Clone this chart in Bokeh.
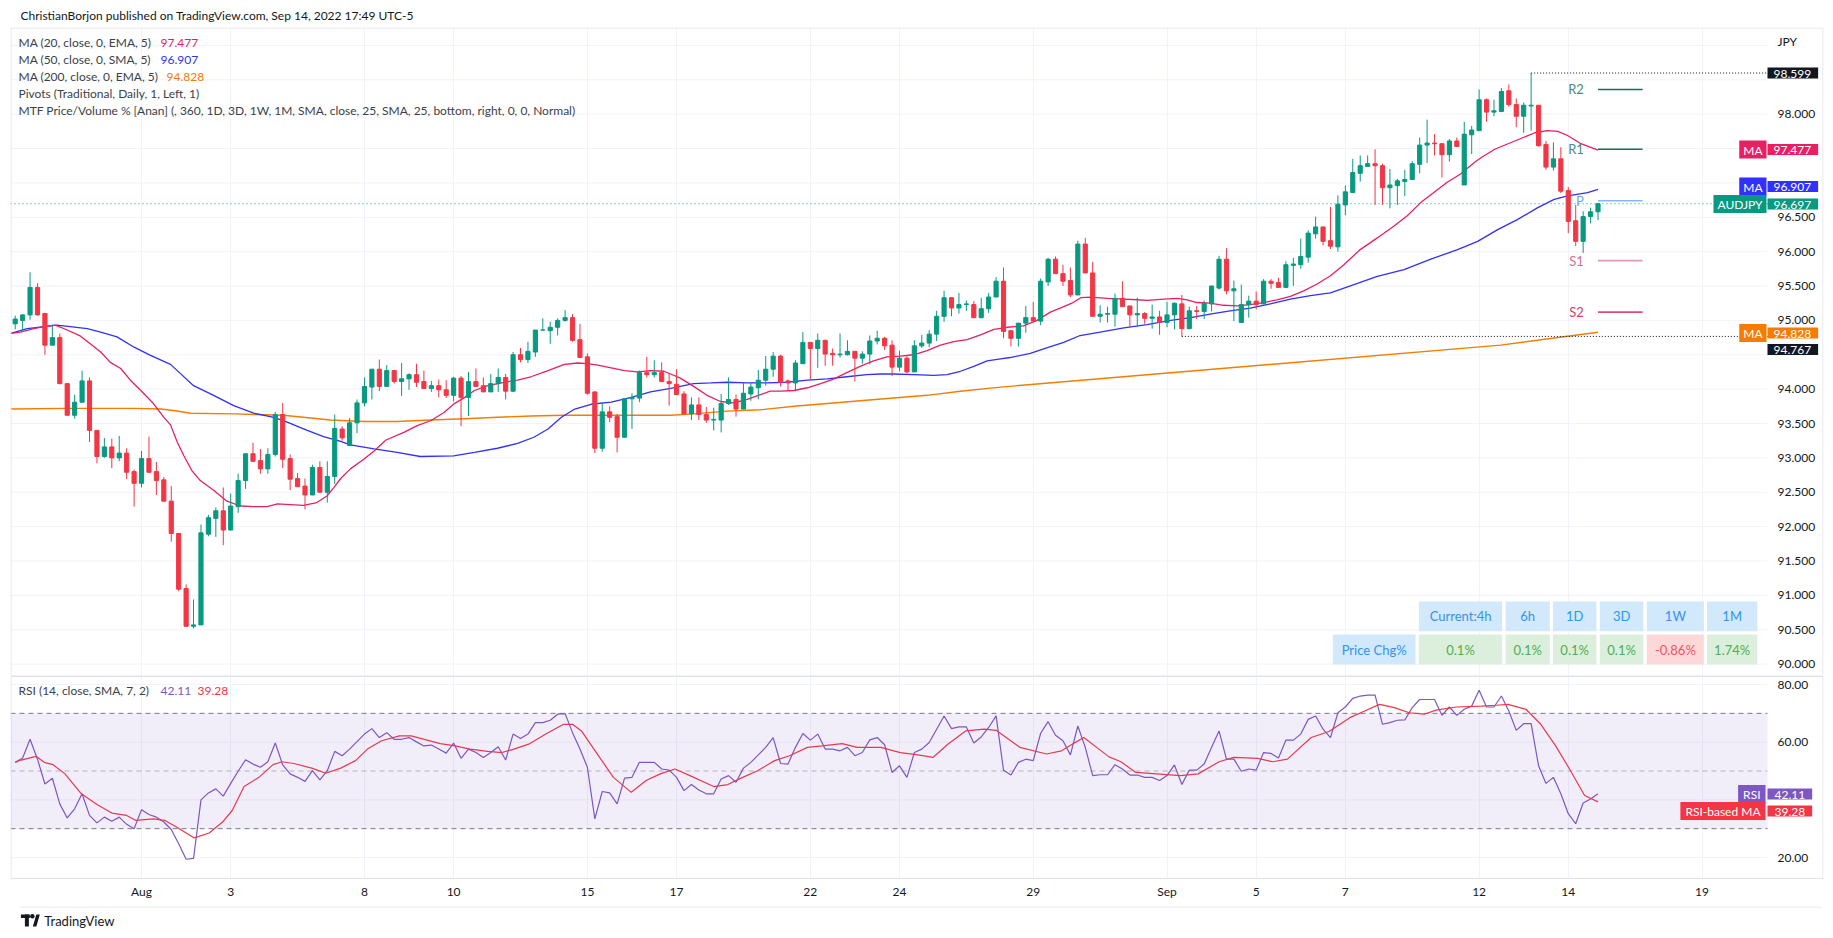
import numpy as np
from bokeh.plotting import figure
from bokeh.layouts import column
from bokeh.models import (ColumnDataSource, Range1d, FixedTicker, Label, Span,
                          NumeralTickFormatter, BoxAnnotation, LinearAxis)
from bokeh.core.properties import value
from bokeh.embed import file_html
from bokeh.resources import INLINE

# ---------------------------------------------------------------- data
opens = [94.95,95.00,95.08,95.48,95.10,94.64,94.75,94.08,93.62,93.81,
94.12,93.40,93.02,93.16,93.00,93.07,92.80,92.63,92.99,92.80,
92.68,92.37,91.90,91.10,90.55,90.57,91.89,92.12,92.23,91.95,
92.29,92.67,93.06,92.96,92.84,93.05,93.63,92.99,92.70,92.59,
92.46,92.86,92.50,92.73,93.42,93.18,93.51,93.80,94.03,94.29,
94.04,94.27,94.11,94.15,94.21,94.11,94.01,94.05,93.99,93.91,
94.16,93.88,94.11,94.05,93.96,94.08,94.17,93.97,94.50,94.43,
94.54,94.86,94.85,94.90,95.00,95.04,94.72,94.47,93.96,93.14,
93.67,93.60,93.30,93.86,93.87,94.24,94.21,94.24,94.11,94.07,
93.93,93.64,93.77,93.63,93.55,93.55,93.79,93.85,93.71,93.93,
94.02,94.13,94.29,94.48,94.12,94.09,94.37,94.68,94.59,94.71,
94.52,94.50,94.50,94.55,94.45,94.51,94.70,94.74,94.64,94.32,
94.45,94.25,94.63,94.67,94.80,95.06,95.33,95.18,95.23,95.23,
95.04,95.17,95.34,95.57,94.85,94.74,94.96,95.04,94.99,95.56,
95.89,95.68,95.58,95.37,96.11,95.69,95.06,95.09,95.09,95.32,
95.21,95.08,95.10,95.03,95.05,94.97,95.08,95.24,94.88,95.14,
95.13,95.24,95.47,95.89,95.43,94.97,95.23,95.28,95.24,95.57,
95.55,95.48,95.80,95.81,95.92,96.26,96.36,96.16,96.07,96.68,
96.86,97.14,97.24,97.28,97.25,96.93,96.96,97.02,97.05,97.27,
97.55,97.58,97.57,97.41,97.61,96.97,97.70,97.76,98.21,98.03,
98.04,98.34,98.14,97.97,98.12,98.13,97.56,97.23,97.35,96.89,
96.45,96.15,96.51,96.58]
highs = [95.07,95.09,95.70,95.54,95.11,94.94,94.81,94.09,93.92,94.27,
94.17,93.40,93.29,93.28,93.32,93.14,92.83,93.10,93.31,92.94,
92.72,92.59,91.90,91.16,90.94,92.03,92.17,92.28,92.57,92.48,
92.77,93.06,93.22,93.13,93.14,93.67,93.80,93.05,92.78,92.70,
92.90,92.95,92.95,93.63,93.46,93.58,93.85,94.17,94.29,94.43,
94.35,94.27,94.38,94.23,94.37,94.27,94.12,94.14,94.13,94.18,
94.19,94.25,94.30,94.17,94.22,94.30,94.22,94.54,94.60,94.69,
94.86,95.03,94.98,95.03,95.15,95.09,94.95,94.52,93.96,93.81,
93.75,93.64,93.86,93.94,94.27,94.47,94.42,94.39,94.23,94.29,
93.97,93.88,93.88,93.74,93.73,93.93,94.17,93.92,94.09,94.09,
94.28,94.48,94.54,94.50,94.14,94.42,94.83,94.68,94.81,94.72,
94.59,94.81,94.71,94.55,94.55,94.78,94.85,94.76,94.71,94.56,
94.48,94.71,94.79,94.86,95.14,95.43,95.34,95.40,95.29,95.28,
95.33,95.40,95.63,95.77,94.85,94.96,95.21,95.27,95.61,95.91,
95.93,95.81,95.77,96.16,96.20,95.85,95.22,95.20,95.39,95.57,
95.21,95.33,95.12,95.23,95.14,95.27,95.26,95.37,95.20,95.21,
95.29,95.50,95.94,96.05,95.58,95.52,95.36,95.42,95.60,95.60,
95.62,95.86,95.91,96.19,96.31,96.51,96.36,96.65,96.82,96.96,
97.35,97.40,97.40,97.49,97.28,97.20,97.06,97.19,97.32,97.66,
97.92,97.71,97.58,97.64,97.66,97.89,97.83,98.36,98.23,98.21,
98.38,98.43,98.23,98.17,98.599,98.13,97.61,97.59,97.52,96.94,
96.68,96.59,96.64,96.71]
lows = [94.87,94.85,95.01,95.07,94.50,94.64,94.07,93.62,93.57,93.81,
93.23,92.92,93.00,92.85,92.95,92.69,92.29,92.57,92.79,92.46,
92.37,91.78,91.06,90.55,90.52,90.57,91.86,91.85,91.73,91.95,
92.20,92.55,92.95,92.77,92.77,93.02,92.85,92.53,92.58,92.25,
92.46,92.50,92.35,92.62,93.25,93.18,93.36,93.75,93.85,93.97,
94.03,94.08,93.90,93.99,94.03,94.00,93.96,93.88,93.87,93.82,
93.46,93.61,94.03,93.96,93.96,93.96,93.85,93.96,94.39,94.38,
94.47,94.85,94.66,94.78,94.98,94.69,94.46,93.92,93.07,93.09,
93.52,93.08,93.30,93.42,93.81,94.17,94.17,94.11,93.76,93.92,
93.64,93.55,93.55,93.51,93.40,93.37,93.77,93.60,93.71,93.83,
93.85,94.05,94.18,94.04,93.97,93.97,94.37,94.14,94.31,94.34,
94.34,94.46,94.49,94.11,94.37,94.36,94.65,94.57,94.19,94.26,
94.23,94.25,94.60,94.61,94.70,94.98,95.06,95.10,95.14,95.04,
95.03,95.11,95.34,94.74,94.62,94.62,94.82,94.99,94.93,95.50,
95.68,95.50,95.34,95.37,95.69,95.06,94.97,94.97,94.91,95.20,
94.90,94.91,94.95,94.88,94.79,94.90,94.87,94.767,94.87,95.02,
95.02,95.13,95.45,95.38,94.99,94.97,95.04,95.16,95.24,95.46,
95.48,95.48,95.50,95.75,95.84,96.19,96.09,96.04,96.00,96.53,
96.85,97.02,97.24,96.68,96.68,96.63,96.68,96.81,97.05,97.14,
97.29,97.40,97.08,97.31,97.53,96.97,97.42,97.76,97.89,97.97,
98.03,98.11,97.81,97.73,97.76,97.53,97.19,97.18,96.85,96.27,
96.08,95.98,96.41,96.46]
closes = [95.02,95.08,95.48,95.08,94.64,94.75,94.08,93.62,93.81,94.12,
93.40,93.02,93.16,93.00,93.07,92.79,92.63,92.99,92.79,92.67,
92.37,91.90,91.09,90.55,90.57,91.91,92.13,92.23,91.95,92.30,
92.67,93.06,92.95,92.84,93.05,93.63,92.98,92.69,92.58,92.46,
92.86,92.50,92.73,93.43,93.29,93.51,93.80,94.04,94.29,94.04,
94.27,94.11,94.15,94.21,94.10,94.01,94.05,93.99,93.91,94.16,
93.88,94.11,94.04,93.96,94.08,94.17,93.97,94.50,94.43,94.55,
94.86,94.86,94.90,95.00,95.04,94.71,94.46,93.94,93.14,93.67,
93.59,93.30,93.86,93.88,94.24,94.21,94.24,94.11,94.08,93.92,
93.64,93.77,93.63,93.55,93.56,93.79,93.85,93.71,93.94,94.03,
94.13,94.29,94.48,94.10,94.09,94.38,94.68,94.59,94.71,94.51,
94.50,94.51,94.55,94.45,94.51,94.70,94.74,94.63,94.32,94.45,
94.25,94.63,94.67,94.80,95.06,95.33,95.18,95.23,95.24,95.04,
95.17,95.34,95.57,94.84,94.74,94.96,95.04,94.99,95.57,95.89,
95.68,95.57,95.37,96.11,95.69,95.06,95.09,95.10,95.32,95.20,
95.08,95.10,95.03,95.05,94.97,95.08,95.25,94.88,95.14,95.13,
95.25,95.50,95.89,95.43,95.46,95.23,95.28,95.23,95.57,95.54,
95.48,95.81,95.82,95.93,96.27,96.36,96.15,96.08,96.69,96.87,
97.15,97.25,97.28,97.25,96.93,96.97,97.03,97.05,97.28,97.55,
97.58,97.57,97.41,97.61,97.53,97.71,97.77,98.21,98.03,98.05,
98.33,98.14,97.97,98.13,98.13,97.54,97.23,97.35,96.88,96.44,
96.15,96.51,96.58,96.697]

# moving averages (bar position, value)
ema20_x = [0.4,1.7,3.5,4.9,6.4,8.0,9.8,11.1,12.5,13.8,15.2,16.5,17.9,19.6,21.0,21.9,22.8,23.7,24.8,25.9,
27.7,29.5,31.3,33.1,34.9,36.3,38.0,39.8,41.6,43.0,43.9,44.8,46.1,47.9,49.3,50.9,53.3,55.1,56.9,58.7,
60.1,61.5,62.8,64.6,66.8,68.6,70.4,72.7,74.9,76.7,78.0,79.4,81.2,83.0,84.7,86.5,88.3,89.2,90.5,92.3,
94.1,95.9,97.7,99.5,101.3,102.6,104.0,105.8,107.6,109.4,111.2,112.9,114.7,116.5,118.3,120.1,121.9,123.7,125.5,127.3,
129.1,130.9,132.7,134.5,136.7,138.5,140.3,142.1,143.2,144.4,145.7,148.0,150.2,152.0,153.3,155.6,157.4,158.7,160.0,161.8,
163.6,165.4,167.2,169.0,170.8,172.6,174.4,176.2,178.0,179.8,182.0,184.3,186.5,188.3,190.1,191.9,193.7,195.5,197.4,198.3,
200.1,201.9,203.7,205.5,207.2,208.6,209.9,211.7,214.0]
ema20_y = [94.81,94.83,94.88,94.91,94.93,94.86,94.77,94.66,94.54,94.39,94.30,94.13,93.98,93.79,93.59,93.48,93.23,93.03,92.81,92.67,
92.53,92.37,92.30,92.29,92.29,92.33,92.32,92.31,92.35,92.45,92.57,92.70,92.84,92.98,93.10,93.26,93.37,93.47,93.54,93.66,
93.79,93.88,93.98,94.05,94.10,94.13,94.18,94.27,94.36,94.38,94.37,94.35,94.31,94.27,94.25,94.27,94.26,94.22,94.16,94.04,
93.91,93.82,93.80,93.85,93.92,93.97,93.97,93.98,94.02,94.08,94.15,94.24,94.33,94.41,94.47,94.48,94.50,94.56,94.64,94.69,
94.72,94.79,94.87,94.90,94.92,95.00,95.12,95.20,95.25,95.33,95.34,95.32,95.31,95.30,95.29,95.31,95.32,95.30,95.26,95.25,
95.22,95.21,95.23,95.26,95.30,95.35,95.43,95.53,95.65,95.81,96.03,96.20,96.37,96.52,96.71,96.86,97.01,97.13,97.30,97.37,
97.49,97.57,97.65,97.73,97.76,97.75,97.69,97.57,97.477]
sma50_x = [0.4,2.6,4.9,6.6,8.4,10.7,12.5,14.7,17.0,19.2,21.9,23.5,25.0,27.7,30.4,33.1,35.8,37.6,40.3,42.5,
44.8,46.1,49.3,52.4,55.5,60.0,62.8,65.9,68.6,70.8,72.7,74.5,76.3,78.5,81.2,83.9,86.5,89.2,90.5,92.3,
94.6,96.8,99.5,102.2,104.9,107.6,110.3,112.9,115.6,117.4,119.2,121.9,124.6,126.4,128.2,130.0,131.8,133.6,134.9,137.6,
139.8,142.1,144.3,147.0,150.2,153.3,156.5,159.2,161.8,164.5,167.2,169.9,172.6,175.3,178.0,184.3,187.9,191.5,195.1,197.8,
200.5,203.2,205.9,208.1,209.9,212.6,214.0]
sma50_y = [94.81,94.88,94.91,94.93,94.91,94.88,94.83,94.76,94.61,94.49,94.36,94.20,94.05,93.91,93.76,93.65,93.59,93.52,93.40,93.31,
93.24,93.19,93.13,93.08,93.02,93.03,93.08,93.14,93.21,93.30,93.42,93.59,93.71,93.78,93.81,93.88,93.96,94.01,94.04,94.08,
94.09,94.10,94.09,94.09,94.10,94.13,94.15,94.18,94.21,94.22,94.22,94.21,94.20,94.21,94.26,94.33,94.41,94.44,94.46,94.52,
94.60,94.68,94.78,94.83,94.89,94.94,95.00,95.04,95.09,95.14,95.18,95.24,95.31,95.36,95.40,95.64,95.74,95.89,96.03,96.15,
96.32,96.47,96.64,96.76,96.81,96.86,96.907]
ema200_x = [0.4,8.0,17.0,20.6,22.3,24.6,30.4,37.1,43.4,47.9,52.4,56.9,61.5,65.9,70.4,74.9,79.4,89.2,92.3,96.8,
101.3,105.8,110.3,114.7,119.2,123.7,128.2,133.6,200.9,209.9,214.0]
ema200_y = [93.71,93.72,93.72,93.71,93.69,93.65,93.64,93.62,93.55,93.53,93.53,93.55,93.57,93.59,93.61,93.62,93.62,93.62,93.64,93.68,
93.70,93.75,93.79,93.83,93.87,93.91,93.97,94.03,94.64,94.77,94.828]

pivot_names = ["R2", "R1", "P", "S1", "S2"]
pivot_values = [98.36, 97.49, 96.74, 95.87, 95.12]

rsi = [53.0,54.5,61.0,54.1,45.5,47.5,38.6,33.7,36.9,42.1,
34.6,32.0,34.0,32.6,34.0,31.5,30.0,36.6,34.9,34.0,
32.3,29.7,24.8,19.4,19.7,40.0,42.4,43.8,41.3,45.7,
49.9,53.9,52.4,51.3,53.2,59.7,52.1,49.0,47.8,46.4,
50.1,46.9,50.1,56.8,55.3,57.6,60.2,62.8,64.7,61.6,
63.3,61.0,61.0,61.6,60.1,58.7,59.0,57.6,56.2,59.7,
54.4,57.6,56.4,54.7,56.4,58.4,53.8,62.8,61.3,62.8,
66.8,66.8,67.6,69.7,69.9,63.3,57.6,51.3,33.4,42.9,
42.4,38.6,47.5,47.8,53.0,53.0,53.0,50.7,50.3,47.8,
43.2,45.3,43.4,42.1,42.1,47.2,48.4,46.1,51.0,53.0,
55.6,58.2,61.6,52.6,52.4,58.2,63.0,60.7,62.8,57.6,
57.6,57.0,58.2,55.3,56.4,60.8,61.6,59.1,49.5,51.8,
47.8,56.4,57.6,59.9,64.5,69.1,64.7,65.3,65.3,59.7,
61.8,65.1,69.1,50.3,48.6,53.0,54.1,53.6,63.1,67.1,
62.4,60.5,55.6,65.6,58.2,48.4,48.7,48.7,52.2,50.7,
48.6,48.6,47.8,47.8,46.7,48.4,52.1,45.3,50.3,50.3,
52.4,58.2,63.9,54.1,54.1,49.9,50.7,50.3,56.4,56.1,
54.5,60.7,60.7,62.8,67.9,69.1,64.5,61.6,70.2,72.2,
75.2,76.0,76.3,76.3,66.2,66.8,67.6,67.7,72.0,74.8,
74.8,74.8,69.3,72.2,69.3,71.4,72.5,78.0,72.2,72.2,
76.0,70.8,64.1,66.4,66.4,51.8,45.7,47.8,42.1,35.2,
31.7,38.9,40.3,42.11]
rsima_x = [1,1.8,3.8,4.9,6.1,7.7,9.9,12.0,14.0,16.0,17.2,19.6,21.1,22.7,25.1,27.1,28.9,30.2,31.8,33.8,
35.7,36.9,38.5,40.9,42.8,44.8,46.8,48.4,50.3,52.7,54.3,56.3,58.2,60.2,62.2,64.6,66.5,68.1,70.1,72.4,
74.8,76.0,77.2,79.2,81.5,83.9,85.9,87.8,89.8,91.8,95.0,96.9,98.9,100.9,103.2,105.2,107.6,109.6,112.3,114.3,
117.5,120.1,122.5,124.5,126.5,128.9,131.4,133.0,136.2,139.8,141.8,143.4,144.8,148.2,149.8,151.8,154.6,157.8,160.2,163.0,
165.0,168.2,170.2,172.2,175.4,177.8,180.6,182.6,184.6,186.6,188.6,190.6,192.2,195.0,198.3,200.3,201.9,204.3,206.3,208.3,
210.3,212.2,214]
rsima_y = [53.0,53.8,55.1,53.0,52.2,49.0,42.1,38.4,35.4,34.6,32.9,33.4,32.9,30.6,26.8,28.5,32.3,36.3,44.6,47.8,
52.2,53.2,52.6,51.0,49.2,51.0,53.6,57.6,60.5,62.2,62.2,60.8,59.5,58.7,57.6,56.8,56.4,57.6,59.3,62.8,
66.2,66.2,63.9,56.4,47.8,42.6,46.7,49.0,50.7,48.4,44.6,45.3,47.8,50.1,53.6,55.3,58.2,58.7,59.5,58.2,
58.2,56.4,55.6,54.7,59.3,63.9,64.5,64.1,58.2,55.9,57.0,59.5,61.6,54.9,53.2,49.5,49.0,48.4,49.0,53.2,
54.7,54.4,53.2,54.1,61.6,63.7,68.5,70.8,73.1,72.0,70.2,69.7,71.1,72.2,72.5,72.8,73.1,71.4,66.2,58.7,
50.1,41.5,39.28]

day_ticks = [18, 30, 48, 60, 78, 90, 108, 120, 138, 156, 168, 180, 198, 210, 228]
day_labels = ["Aug", "3", "8", "10", "15", "17", "22", "24", "29", "Sep", "5", "7", "12", "14", "19"]
price_ticks = [90.0, 90.5, 91.0, 91.5, 92.0, 92.5, 93.0, 93.5, 94.0, 95.0, 95.5, 96.0, 96.5, 98.0]
price_grid = [90.0, 90.5, 91.0, 91.5, 92.0, 92.5, 93.0, 93.5, 94.0, 94.5, 95.0, 95.5, 96.0, 96.5, 97.0, 97.5, 98.0, 98.5, 99.0]
rsi_ticks = [20, 60, 80]
rsi_grid = [20, 40, 60, 80]
rsi_levels = [70, 50, 30]

table_header = ["Current:4h", "6h", "1D", "3D", "1W", "1M"]
table_values = ["0.1%", "0.1%", "0.1%", "0.1%", "-0.86%", "1.74%"]
table_row_name = "Price Chg%"

symbol = "AUDJPY"
currency = "JPY"
header_text = "ChristianBorjon published on TradingView.com, Sep 14, 2022 17:49 UTC-5"
legend_names = ["MA (20, close, 0, EMA, 5)", "MA (50, close, 0, SMA, 5)", "MA (200, close, 0, EMA, 5)",
                "Pivots (Traditional, Daily, 1, Left, 1)",
                "MTF Price/Volume % [Anan] (, 360, 1D, 3D, 1W, 1M, SMA, close, 25, SMA, 25, bottom, right, 0, 0, Normal)"]
rsi_legend = "RSI (14, close, SMA, 7, 2)"

# ---------------------------------------------------------------- styles / layout
FONT = "Lato"
TXT = "#131722"
LEG = "#3b3f4a"
GRID = "#f0f3fa"
BORDER = "#e0e3eb"
UP, DOWN = "#089981", "#f23645"
C20, C50, C200 = "#e91e63", "#3030ff", "#f57c00"
C_RSI, C_RSIMA = "#7e57c2", "#f23645"
PIV_LINE = ["#1f6b5b", "#1f6b5b", "#8ab4f8", "#e596b6", "#dc4a78"]
PIV_TEXT = ["#4d8b7c", "#4d8b7c", "#74a3ee", "#d66e97", "#c9436e"]

W = 1825
BAR1_PX, BAR_PX = 14.7, 7.431
FRAME_L, CHART_R, FRAME_R = 10, 1767, 1823
P_TOP, P_BOT = 27, 675
R_TOP, R_BOT = 675, 878
K_P = 68.74
Y_HI = 98.599 + (72.5 - P_TOP) / K_P
Y_LO = Y_HI - (P_BOT - P_TOP) / K_P
K_R = 173.0 / 60.0
R_HI = 80 + (684 - R_TOP) / K_R
R_LO = R_HI - (R_BOT - R_TOP) / K_R

def bx(px):
    return 1 + (px - BAR1_PX) / BAR_PX

def py(px):
    return Y_HI - (px - P_TOP) / K_P

def ry(px):
    return R_HI - (px - R_TOP) / K_R

X_LO, X_HI = bx(FRAME_L), bx(FRAME_R)
X_AX = bx(CHART_R)
xr = Range1d(X_LO, X_HI)


def make_label(x, y, text, color="white", bg=None, align="left", size="12px", pad=None, style="normal"):
    kw = dict(x=x, y=y, text=text, text_align=align, text_baseline="middle",
              text_color=color, text_font=FONT, text_font_size=size, text_font_style=style)
    if bg is not None:
        kw["background_fill_color"] = bg
    if pad is not None:
        l, r, t, b = pad
        for p in (dict(left=l, right=r, top=t, bottom=b), (l, r, t, b), max(l, r)):
            try:
                return Label(padding=p, **kw)
            except Exception:
                continue
    return Label(**kw)


def bare(fig):
    fig.xgrid.visible = False
    fig.ygrid.visible = False
    fig.outline_line_color = None


def scale_axis(fig, ticks, fmt):
    ax = LinearAxis(fixed_location=X_AX, ticker=FixedTicker(ticks=ticks),
                    formatter=NumeralTickFormatter(format=fmt))
    ax.axis_line_color = None
    ax.major_tick_line_color = None
    ax.minor_tick_line_color = None
    ax.major_tick_out = 0
    ax.major_tick_in = 0
    ax.major_label_standoff = 10
    ax.major_label_text_font = FONT
    ax.major_label_text_font_size = "12px"
    ax.major_label_text_color = TXT
    fig.add_layout(ax, "right")
    return ax


# ---------------------------------------------------------------- header
fh = figure(width=W, height=P_TOP, x_range=(0, W), y_range=(0, P_TOP), toolbar_location=None,
            output_backend="svg", x_axis_location=None, y_axis_location=None, min_border=0)
bare(fh)
fh.add_layout(make_label(10, P_TOP - 15, header_text, color=TXT, size="12px"))

# ---------------------------------------------------------------- price pane
p1 = figure(width=W, height=P_BOT - P_TOP, x_range=xr, y_range=Range1d(Y_LO, Y_HI),
            toolbar_location=None, output_backend="svg", x_axis_location=None,
            y_axis_location=None, min_border_left=FRAME_L, min_border_right=W - FRAME_R,
            min_border_top=0, min_border_bottom=0)
p1.outline_line_color = None
p1.ygrid.visible = False
p1.xgrid.ticker = FixedTicker(ticks=day_ticks)
p1.xgrid.grid_line_color = GRID
scale_axis(p1, price_ticks, "0.000")

p1.segment(x0=[X_LO] * len(price_grid), x1=[X_AX] * len(price_grid), y0=price_grid, y1=price_grid,
           line_color=GRID, line_width=1)
p1.add_layout(Span(location=py(P_TOP + 0.5), dimension="width", line_color=BORDER, line_width=1))
p1.add_layout(Span(location=X_LO + 0.5 / BAR_PX, dimension="height", line_color=BORDER, line_width=1))
p1.add_layout(Span(location=X_HI - 0.5 / BAR_PX, dimension="height", line_color=BORDER, line_width=1))

n = len(closes)
xs = np.arange(1, n + 1)
o = np.array(opens); h = np.array(highs); l = np.array(lows); c = np.array(closes)
colors = [UP if cc >= oo else DOWN for oo, cc in zip(o, c)]
src = ColumnDataSource(dict(x=xs, h=h, l=l, top=np.maximum(o, c), bot=np.minimum(o, c), color=colors))

p1.line(ema200_x, ema200_y, line_color=C200, line_width=1.4)
p1.line(sma50_x, sma50_y, line_color=C50, line_width=1.3)
p1.line(ema20_x, ema20_y, line_color=C20, line_width=1.3)

p1.segment(x0="x", y0="l", x1="x", y1="h", line_color="color", line_width=1, source=src)
p1.vbar(x="x", width=0.56, top="top", bottom="bot", fill_color="color", line_color="color",
        line_width=1, source=src)

# pivots (one day ahead from the last bar)
p1.segment(x0=[n] * 5, x1=[n + 6] * 5, y0=pivot_values, y1=pivot_values,
           line_color=PIV_LINE, line_width=1.6)
p1.text(x=[n - 1.9] * 5, y=pivot_values, text=pivot_names, text_align="right",
        text_baseline="middle", text_color=PIV_TEXT, text_font=value(FONT), text_font_size="13px")

# dotted high / low / last price lines
hi_i = int(np.argmax(h))
LOW_WINDOW = 140
lo_i = LOW_WINDOW + int(np.argmin(l[LOW_WINDOW:]))
p1.segment(x0=[hi_i + 1], x1=[X_AX], y0=[h[hi_i]], y1=[h[hi_i]], line_color=TXT,
           line_width=1, line_dash="1 2")
p1.segment(x0=[lo_i + 1], x1=[X_AX], y0=[l[lo_i]], y1=[l[lo_i]], line_color=TXT,
           line_width=1, line_dash="1 2")
p1.segment(x0=[X_LO], x1=[X_AX], y0=[c[-1]], y1=[c[-1]], line_color=UP, line_width=1, line_dash="1 3")

# table (MTF price change)
T_HEAD = (601, 630.7)
T_VAL = (634, 664)
T_NAME = (1332.3, 1415.0)
T_COLS = [(1418.4, 1501.7), (1505.1, 1549.3), (1552.4, 1595.9), (1599.3, 1642.9),
          (1646.3, 1703.4), (1706.5, 1756.8)]
HEAD_BG, HEAD_TX = "#d2e8fb", "#2f95f0"
POS_BG, POS_TX = "#dcefdd", "#4caf50"
NEG_BG, NEG_TX = "#fcd8d8", "#f7525f"
lefts = [bx(a) for a, b in T_COLS] * 2 + [bx(T_NAME[0])]
rights = [bx(b) for a, b in T_COLS] * 2 + [bx(T_NAME[1])]
tops = [py(T_HEAD[0])] * 6 + [py(T_VAL[0])] * 6 + [py(T_VAL[0])]
bots = [py(T_HEAD[1])] * 6 + [py(T_VAL[1])] * 6 + [py(T_VAL[1])]
val_neg = [v.startswith("-") for v in table_values]
fills = [HEAD_BG] * 6 + [NEG_BG if ng else POS_BG for ng in val_neg] + [HEAD_BG]
p1.quad(left=lefts, right=rights, top=tops, bottom=bots, fill_color=fills, line_color=None)
txt_x = [(a + b) / 2 for a, b in zip(lefts, rights)]
txt_y = [(a + b) / 2 for a, b in zip(tops, bots)]
txt = table_header + table_values + [table_row_name]
txt_c = [HEAD_TX] * 6 + [NEG_TX if ng else POS_TX for ng in val_neg] + [HEAD_TX]
p1.text(x=txt_x, y=txt_y, text=txt, text_align="center", text_baseline="middle",
        text_color=txt_c, text_font=value(FONT), text_font_size="13px")

# legend (top-left)
LEG_Y = [42, 59, 76, 92.5, 110]
LEG_VAL_X = [160, 160, 166]
ma_vals = [ema20_y[-1], sma50_y[-1], ema200_y[-1]]
ma_cols = [C20, C50, C200]
for i, name in enumerate(legend_names):
    p1.add_layout(make_label(bx(18), py(LEG_Y[i]), name, color=LEG, size="12px"))
for i in range(3):
    p1.add_layout(make_label(bx(LEG_VAL_X[i]), py(LEG_Y[i]), f"{ma_vals[i]:.3f}", color=ma_cols[i], size="12px"))

# price-scale tags
p1.add_layout(make_label(bx(1777), py(40.7), currency, color=TXT, size="12px"))
tags = [
    (None, None, h[hi_i], 72.5, "#131722"),
    ("MA", C20, ema20_y[-1], 149.0, C20),
    ("MA", C50, sma50_y[-1], 186.0, C50),
    (symbol, UP, c[-1], 203.5, UP),
    ("MA", C200, ema200_y[-1], 332.5, C200),
    (None, None, l[lo_i], 349.0, "#131722"),
]
for name, ncol, val, ypx, vcol in tags:
    if name is not None:
        p1.add_layout(make_label(bx(CHART_R - 1), py(ypx), name, bg=ncol, align="right",
                                 pad=(4, 4, 2, 1)))
    p1.add_layout(make_label(X_AX, py(ypx), f"{val:.3f}", bg=vcol, align="left",
                             pad=(6, 7, 2, 1)))

# ---------------------------------------------------------------- RSI pane
p2 = figure(width=W, height=(R_BOT - R_TOP) + 28, x_range=xr, y_range=Range1d(R_LO, R_HI),
            toolbar_location=None, output_backend="svg", x_axis_location="below",
            y_axis_location=None, min_border_left=FRAME_L, min_border_right=W - FRAME_R,
            min_border_top=0, min_border_bottom=28)
p2.outline_line_color = None
p2.ygrid.visible = False
scale_axis(p2, rsi_ticks, "0.00")
p2.xaxis.ticker = FixedTicker(ticks=day_ticks)
p2.xaxis.major_label_overrides = {t: s for t, s in zip(day_ticks, day_labels)}
ax = p2.xaxis[0]
ax.major_tick_line_color = None
ax.minor_tick_line_color = None
ax.major_tick_out = 0
ax.major_tick_in = 0
ax.major_label_text_font = FONT
ax.major_label_text_font_size = "12px"
ax.major_label_text_color = TXT
ax.axis_line_color = BORDER
ax.major_label_standoff = 5
p2.xgrid.ticker = FixedTicker(ticks=day_ticks)
p2.xgrid.grid_line_color = GRID

p2.segment(x0=[X_LO] * len(rsi_grid), x1=[X_AX] * len(rsi_grid), y0=rsi_grid, y1=rsi_grid,
           line_color=GRID, line_width=1)
p2.add_layout(Span(location=ry(R_TOP + 0.5), dimension="width", line_color=BORDER, line_width=2))
p2.add_layout(Span(location=X_LO + 0.5 / BAR_PX, dimension="height", line_color=BORDER, line_width=1))
p2.add_layout(Span(location=X_HI - 0.5 / BAR_PX, dimension="height", line_color=BORDER, line_width=1))
p2.add_layout(BoxAnnotation(bottom=rsi_levels[2], top=rsi_levels[0], right=X_AX, fill_color=C_RSI,
                            fill_alpha=0.1, line_color=None))
p2.segment(x0=[X_LO] * 3, x1=[X_AX] * 3, y0=rsi_levels, y1=rsi_levels, line_color="#787b86",
           line_alpha=[1.0, 0.5, 1.0], line_width=1, line_dash="5 4")

p2.line(xs, rsi, line_color=C_RSI, line_width=1.2)
p2.line(rsima_x, rsima_y, line_color=C_RSIMA, line_width=1.2)

p2.add_layout(make_label(bx(18), ry(690), rsi_legend, color=LEG, size="12px"))
p2.add_layout(make_label(bx(160), ry(690), f"{rsi[-1]:.2f}", color=C_RSI, size="12px"))
p2.add_layout(make_label(bx(197), ry(690), f"{rsima_y[-1]:.2f}", color=C_RSIMA, size="12px"))

for name, col, val, ypx in [("RSI", C_RSI, rsi[-1], 793.5), ("RSI-based MA", C_RSIMA, rsima_y[-1], 810.5)]:
    p2.add_layout(make_label(bx(CHART_R - 2), ry(ypx), name, bg=col, align="right", pad=(5, 5, 2, 1)))
    p2.add_layout(make_label(X_AX, ry(ypx), f"{val:.2f}", bg=col, align="left", pad=(7, 7, 2, 1)))

# ---------------------------------------------------------------- footer logo
FH = 30
fl = figure(width=W, height=FH, x_range=(0, W), y_range=(0, FH), toolbar_location=None,
            output_backend="svg", x_axis_location=None, y_axis_location=None, min_border=0)
bare(fl)
fl.segment(x0=[FRAME_L], x1=[FRAME_R], y0=[FH - 0.5], y1=[FH - 0.5], line_color=BORDER, line_width=1)
fl.quad(left=[10.5, 14.5], right=[19.5, 18.5], top=[22, 22], bottom=[18.5, 10], fill_color="#131722", line_color=None)
fl.scatter([22.0], [20.2], size=4.5, fill_color="#131722", line_color=None)
fl.patch([22.5, 26.0, 29.5, 26.0], [10, 10, 22, 22], fill_color="#131722", line_color=None)
fl.add_layout(make_label(34, 16, "TradingView", color=TXT, size="13px"))

layout = column(fh, p1, p2, fl, spacing=0)
open("out.html", "w").write(file_html(layout, INLINE))
